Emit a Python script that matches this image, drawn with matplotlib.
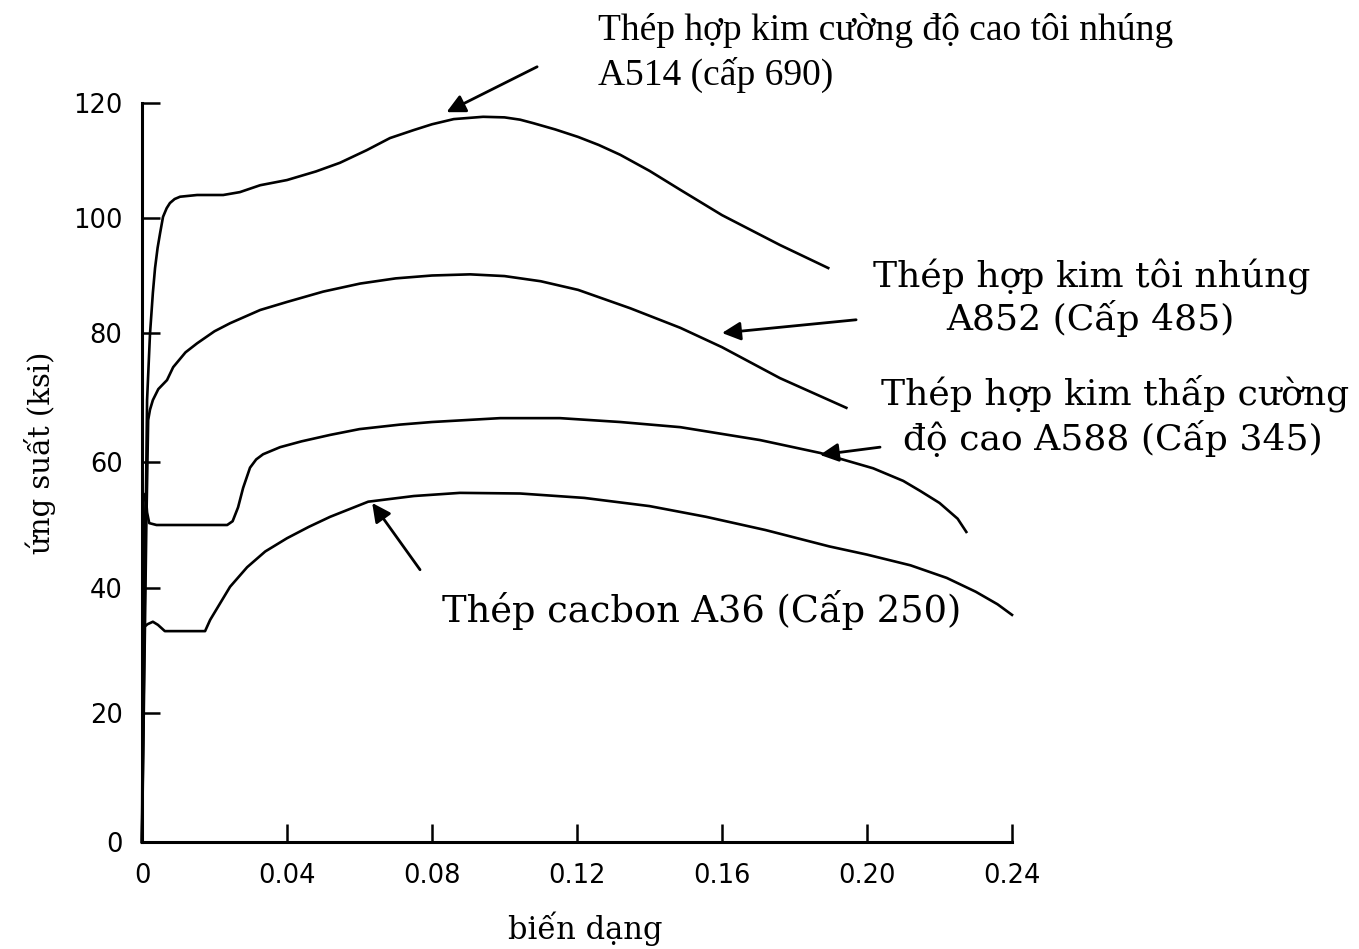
import numpy as np
import matplotlib.pyplot as plt

# đường cong ứng suất - biến dạng
strain_a514 = [0, 0.0008, 0.0014, 0.0022, 0.0030, 0.0036, 0.0043, 0.0050, 0.0058, 0.0068, 0.0077,
               0.0090, 0.0105, 0.0152, 0.0224, 0.0270, 0.0326, 0.0400, 0.0480, 0.0546, 0.0620,
               0.0684, 0.0750, 0.0800, 0.0860, 0.0941, 0.1000, 0.1043, 0.1079, 0.1140, 0.1203,
               0.1260, 0.1319, 0.1400, 0.1485, 0.1600, 0.1760, 0.1893]
stress_a514 = [0, 40, 69.6, 79.8, 87.0, 91.3, 94.8, 97.4, 100.2, 101.7, 102.6,
               103.3, 103.7, 104.0, 104.0, 104.5, 105.7, 106.6, 108.1, 109.6, 111.8,
               113.9, 115.3, 116.3, 117.2, 117.6, 117.5, 117.1, 116.5, 115.4, 114.1,
               112.7, 111.0, 108.2, 104.9, 100.5, 95.3, 91.3]

strain_a852 = [0, 0.0012, 0.0017, 0.0022, 0.0030, 0.0045, 0.0069, 0.0086, 0.0120, 0.0152,
               0.0200, 0.0243, 0.0326, 0.0400, 0.0500, 0.0602, 0.0700, 0.0800, 0.0905,
               0.1000, 0.1100, 0.1203, 0.1347, 0.1485, 0.1600, 0.1760, 0.1943]
stress_a852 = [0, 50, 66.5, 68.1, 69.6, 71.3, 72.7, 74.7, 77.0, 78.4,
               80.3, 81.7, 84.0, 85.4, 87.2, 88.6, 89.5, 90.0, 90.2,
               89.9, 89.0, 87.5, 84.3, 80.9, 77.8, 73.0, 68.4]

strain_a588 = [0, 0.0006, 0.0010, 0.0014, 0.0020, 0.0040, 0.0120, 0.0235, 0.0250, 0.0265,
               0.0279, 0.0298, 0.0315, 0.0334, 0.0381, 0.0440, 0.0519, 0.0600, 0.0712, 0.0800,
               0.0988, 0.1153, 0.1319, 0.1485, 0.1705, 0.1871, 0.2017, 0.2100, 0.2147, 0.2200,
               0.2250, 0.2274]
stress_a588 = [0, 40, 55.0, 52.0, 50.3, 50.0, 50.0, 50.0, 50.6, 52.8,
               55.9, 59.1, 60.4, 61.2, 62.3, 63.2, 64.2, 65.1, 65.8, 66.2,
               66.8, 66.8, 66.2, 65.4, 63.4, 61.4, 59.0, 57.0, 55.4, 53.5,
               51.0, 48.9]

strain_a36 = [0, 0.0003, 0.0015, 0.0030, 0.0044, 0.0063, 0.0174, 0.0188, 0.0243, 0.0290,
              0.0340, 0.0400, 0.0460, 0.0519, 0.0624, 0.0750, 0.0877, 0.1043, 0.1220,
              0.1400, 0.1556, 0.1720, 0.1896, 0.2000, 0.2120, 0.2220, 0.2300, 0.2360, 0.2400]
stress_a36 = [0, 33.6, 34.2, 34.6, 34.1, 33.1, 33.1, 34.9, 40.2, 43.3,
              45.8, 47.9, 49.7, 51.3, 53.7, 54.6, 55.1, 55.0, 54.3,
              53.0, 51.3, 49.2, 46.6, 45.3, 43.6, 41.6, 39.4, 37.4, 35.7]

x_ticks = [0, 0.04, 0.08, 0.12, 0.16, 0.20, 0.24]
x_labels = ['0', '0.04', '0.08', '0.12', '0.16', '0.20', '0.24']
y_ticks = [0, 20, 40, 60, 80, 100, 120]
# vạch chia trục tung trong bản gốc không đều nhau (pixel tính từ trục hoành)
y_tick_px = [0, 129, 254, 380, 509, 624, 739]


def y_fwd(v):
    v = np.asarray(v, dtype=float)
    out = np.interp(v, y_ticks, y_tick_px)
    out = np.where(v > 120, 739 + (v - 120) * 115 / 20, out)
    return np.where(v < 0, v * 129 / 20, out)


def y_inv(p):
    p = np.asarray(p, dtype=float)
    out = np.interp(p, y_tick_px, y_ticks)
    out = np.where(p > 739, 120 + (p - 739) * 20 / 115, out)
    return np.where(p < 0, p * 20 / 129, out)


W, H = 1359, 949
fig = plt.figure(figsize=(W / 100, H / 100), dpi=100)
ax = fig.add_axes([142 / W, 1 - 842 / H, (1012 - 142) / W, (842 - 103) / H])
ax.set_yscale('function', functions=(y_fwd, y_inv))

for sx, sy in [(strain_a514, stress_a514), (strain_a852, stress_a852),
               (strain_a588, stress_a588), (strain_a36, stress_a36)]:
    ax.plot(sx, sy, color='black', lw=1.9, solid_joinstyle='round', clip_on=False)

ax.set_xlim(0, 0.24)
ax.set_ylim(0, 120)
ax.spines['top'].set_visible(False)
ax.spines['right'].set_visible(False)
ax.spines['left'].set_linewidth(2.2)
ax.spines['bottom'].set_linewidth(2.2)
ax.set_xticks(x_ticks, x_labels)
ax.set_yticks(y_ticks, [str(v) for v in y_ticks])
ax.minorticks_off()
ax.tick_params(direction='in', length=13, width=1.8, labelsize=18.5)
ax.tick_params(axis='x', pad=15)
ax.tick_params(axis='y', pad=14)
for lb in ax.get_xticklabels() + ax.get_yticklabels():
    lb.set_fontfamily('DejaVu Sans')

slab = 'DejaVu Serif'
fig.text(40 / W, 1 - 453 / H, 'ứng suất (ksi)', fontfamily=slab, fontsize=21,
         rotation=90, ha='center', va='center')
fig.text(585 / W, 1 - 939 / H, 'biến dạng', fontfamily=slab, fontsize=22,
         ha='center', va='baseline')

# chú thích
arrow = dict(arrowstyle='-|>', mutation_scale=28, lw=2, color='black', shrinkA=0, shrinkB=0)
ax.annotate('', xy=(0.084, 118.4), xytext=(0.109, 126.3), arrowprops=arrow, annotation_clip=False)
ax.annotate('', xy=(0.160, 80.0), xytext=(0.197, 82.3), arrowprops=arrow, annotation_clip=False)
ax.annotate('', xy=(0.187, 61.1), xytext=(0.2036, 62.3), arrowprops=arrow, annotation_clip=False)
ax.annotate('', xy=(0.0635, 53.5), xytext=(0.0767, 42.9), arrowprops=arrow, annotation_clip=False)

times = 'Liberation Serif'
fig.text(598 / W, 1 - 40 / H, 'Thép hợp kim cường độ cao tôi nhúng', fontfamily=times,
         fontsize=27, va='baseline')
fig.text(598 / W, 1 - 85 / H, 'A514 (cấp 690)', fontfamily=times, fontsize=27, va='baseline')

fig.text(1092 / W, 1 - 287 / H, 'Thép hợp kim tôi nhúng', fontfamily=slab, fontsize=26,
         ha='center', va='baseline')
fig.text(1090 / W, 1 - 330 / H, 'A852 (Cấp 485)', fontfamily=slab, fontsize=26,
         ha='center', va='baseline')
fig.text(1115 / W, 1 - 405 / H, 'Thép hợp kim thấp cường', fontfamily=slab, fontsize=26,
         ha='center', va='baseline')
fig.text(1113 / W, 1 - 450 / H, 'độ cao A588 (Cấp 345)', fontfamily=slab, fontsize=26,
         ha='center', va='baseline')
fig.text(702 / W, 1 - 622 / H, 'Thép cacbon A36 (Cấp 250)', fontfamily=slab, fontsize=26.5,
         ha='center', va='baseline')

fig.savefig('out.png', dpi=100)
